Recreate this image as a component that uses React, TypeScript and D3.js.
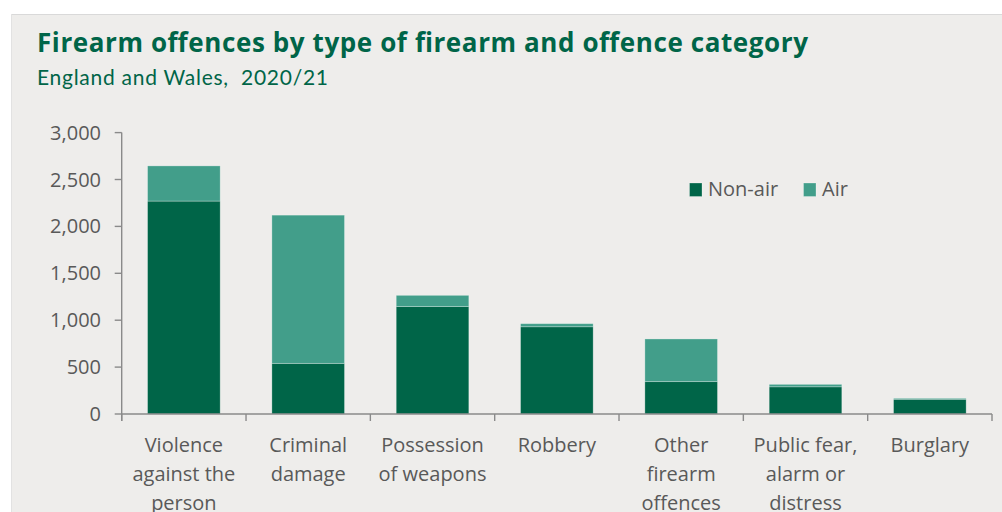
import React from "react";
import * as d3 from "d3";

const categories = [
  "Violence against the person",
  "Criminal damage",
  "Possession of weapons",
  "Robbery",
  "Other firearm offences",
  "Public fear, alarm or distress",
  "Burglary",
];
const categoryLines = [
  ["Violence", "against the", "person"],
  ["Criminal", "damage"],
  ["Possession", "of weapons"],
  ["Robbery"],
  ["Other", "firearm", "offences"],
  ["Public fear,", "alarm or", "distress"],
  ["Burglary"],
];
const nonAir = [2270, 540, 1145, 930, 345, 290, 157];
const air = [375, 1580, 120, 33, 455, 26, 10];
const yTicks = [0, 500, 1000, 1500, 2000, 2500, 3000];
const seriesNames = ["Non-air", "Air"];
const seriesColors = ["#006548", "#429e8a"];

const W = 1002;
const H = 512;
const left = 121.7;
const right = 992;
const bottom = 414;
const top = 132.6;

export default function App() {
  const x = d3
    .scaleBand<string>()
    .domain(categories)
    .range([left, right])
    .paddingInner(0.416)
    .paddingOuter(0.208);
  const step = x.step();
  const y = d3.scaleLinear().domain([0, 3000]).range([bottom, top]);

  const rows = categories.map((c, i) => ({ cat: c, "Non-air": nonAir[i], Air: air[i] }));
  const stacked = d3.stack<any>().keys(seriesNames)(rows);

  const fmt = d3.format(",");
  const font = "'Open Sans', sans-serif";
  const axisColor = "#8a8a8a";
  const textColor = "#595959";

  const boundaries = d3.range(categories.length + 1).map((i) => left + i * step);

  return (
    <svg
      width={W}
      height={H}
      style={{ position: "absolute", left: 0, top: 0, display: "block" }}
    >
      <rect x={0} y={0} width={W} height={H} fill="#ffffff" />
      <rect x={11} y={14} width={W - 11} height={H - 14} fill="#eeedeb" />
      <line x1={11} x2={W} y1={14.5} y2={14.5} stroke="#d9d9d9" strokeWidth={1} />
      <line x1={11.5} x2={11.5} y1={14} y2={H} stroke="#e2e2e2" strokeWidth={1} />

      <text
        x={37}
        y={52}
        fontFamily="'Open Sans', sans-serif"
        fontWeight={700}
        fontSize={26}
        fill="#006548"
        textLength={771}
        lengthAdjust="spacing"
      >
        Firearm offences by type of firearm and offence category
      </text>
      <text
        x={37}
        y={85}
        fontFamily="Lato, sans-serif"
        fontSize={21}
        fill="#006548"
        textLength={291}
        lengthAdjust="spacing"
        style={{ whiteSpace: "pre" }}
      >
        {"England and Wales,  2020/21"}
      </text>

      {/* bars */}
      {stacked.map((s, si) => (
        <g key={s.key} fill={seriesColors[si]}>
          {s.map((d, i) => (
            <rect
              key={i}
              x={x(categories[i])}
              width={x.bandwidth()}
              y={y(d[1])}
              height={y(d[0]) - y(d[1])}
              stroke="#ffffff"
              strokeOpacity={0.35}
              strokeWidth={0.8}
            />
          ))}
        </g>
      ))}

      {/* y axis */}
      <line x1={left} x2={left} y1={top} y2={bottom + 7} stroke={axisColor} strokeWidth={1.4} />
      {yTicks.map((t) => (
        <g key={t}>
          <line x1={left - 7} x2={left} y1={y(t)} y2={y(t)} stroke={axisColor} strokeWidth={1.4} />
          <text
            x={101}
            y={y(t)}
            dy="0.35em"
            textAnchor="end"
            fontFamily={font}
            fontSize={20}
            fill={textColor}
          >
            {fmt(t)}
          </text>
        </g>
      ))}

      {/* x axis */}
      <line x1={left} x2={right} y1={bottom} y2={bottom} stroke={axisColor} strokeWidth={1.4} />
      {boundaries.map((b, i) => (
        <line key={i} x1={b} x2={b} y1={bottom} y2={bottom + 7} stroke={axisColor} strokeWidth={1.4} />
      ))}
      {categoryLines.map((lines, i) => (
        <text
          key={i}
          x={(x(categories[i]) as number) + x.bandwidth() / 2}
          y={452}
          textAnchor="middle"
          fontFamily={font}
          fontSize={20}
          fill={textColor}
        >
          {lines.map((l, j) => (
            <tspan key={j} x={(x(categories[i]) as number) + x.bandwidth() / 2} y={452 + j * 29}>
              {l}
            </tspan>
          ))}
        </text>
      ))}

      {/* legend */}
      {seriesNames.map((n, i) => {
        const lx = [689.5, 803.5][i];
        return (
          <g key={n}>
            <rect x={lx} y={183} width={12.5} height={13.5} fill={seriesColors[i]} stroke="#ffffff" strokeOpacity={0.35} strokeWidth={0.8} />
            <text x={lx + 18.5} y={196} fontFamily={font} fontSize={20} fill={textColor}>
              {n}
            </text>
          </g>
        );
      })}
    </svg>
  );
}
